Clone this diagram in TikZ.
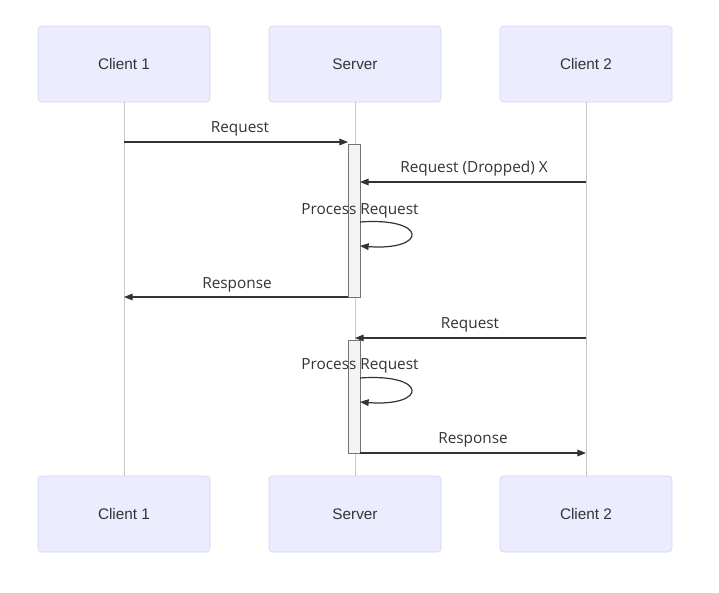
\documentclass[tikz,border=0pt]{standalone}
\usepackage{fontspec}
\setmainfont{Liberation Sans}
\newfontfamily\msgfont{Open Sans}
\usetikzlibrary{arrows.meta}
\definecolor{actorfill}{HTML}{ECECFF}
\definecolor{actorline}{HTML}{D2D2F8}
\definecolor{inkgray}{HTML}{333333}
\definecolor{lifegray}{HTML}{C8C8C8}
\definecolor{actfill}{HTML}{F4F4F4}
\tikzset{
  actor/.style={draw=actorline, fill=actorfill, rounded corners=2.5pt, minimum width=129pt, minimum height=57pt, text=inkgray, font=\fontsize{11.5}{13}\selectfont},
  lifeline/.style={draw=lifegray, line width=0.6pt},
  activation/.style={draw=gray!90!black, fill=actfill, line width=0.6pt},
  msg/.style={draw=inkgray, line width=0.9pt, -{Triangle[length=6.5pt,width=5pt]}},
  msglabel/.style={text=inkgray, font=\msgfont\fontsize{11.5}{13}\selectfont, inner sep=1pt}
}
\begin{document}
\begin{tikzpicture}[x=0.75pt, y=-0.75pt]
        \useasboundingbox (0,0) rectangle (719,593);

        % The Participants (top and bottom)
        \node[actor] (c1top) at (124,64) {Client 1};
        \node[actor] (srvtop) at (355,64) {Server};
        \node[actor] (c2top) at (586,64) {Client 2};
        \node[actor] (c1bot) at (124,514) {Client 1};
        \node[actor] (srvbot) at (355,514) {Server};
        \node[actor] (c2bot) at (586,514) {Client 2};

        % The Lifelines
        \draw[lifeline] (c1top) -- (c1bot);
        \draw[lifeline] (srvtop) -- (srvbot);
        \draw[lifeline] (c2top) -- (c2bot);

        % The Activations
        \draw[activation] (348,144) rectangle (360,297);
        \draw[activation] (348,340) rectangle (360,453);

        % Message ends
        \coordinate (reqa) at (124,142);
        \coordinate (reqb) at (348,142);
        \coordinate (dropa) at (586,182);
        \coordinate (dropb) at (360,182);
        \coordinate (loopa) at (360,222);
        \coordinate (loopb) at (360,246);
        \coordinate (respa) at (348,297);
        \coordinate (respb) at (124,297);
        \coordinate (req2a) at (586,338);
        \coordinate (req2b) at (355,338);
        \coordinate (loop2a) at (360,378);
        \coordinate (loop2b) at (360,402);
        \coordinate (resp2a) at (360,453);
        \coordinate (resp2b) at (586,453);

        % First round
        \draw[msg] (reqa) -- (reqb);
        \node[msglabel] (reqlbl) at (240,129) {Request};
        \draw[msg] (dropa) -- (dropb);
        \node[msglabel] (droplbl) at (474,169) {Request (Dropped) X};
        \node[msglabel] (proclbl) at (360,211) {Process Request};
        \draw[msg] (loopa) .. controls (428,217) and (428,251) .. (loopb);
        \draw[msg] (respa) -- (respb);
        \node[msglabel] (resplbl) at (237,285) {Response};

        % Second round
        \draw[msg] (req2a) -- (req2b);
        \node[msglabel] (req2lbl) at (470,325) {Request};
        \node[msglabel] (proc2lbl) at (360,366) {Process Request};
        \draw[msg] (loop2a) .. controls (428,373) and (428,407) .. (loop2b);
        \draw[msg] (resp2a) -- (resp2b);
        \node[msglabel] (resp2lbl) at (473,440) {Response};
    \end{tikzpicture}
\end{document}
